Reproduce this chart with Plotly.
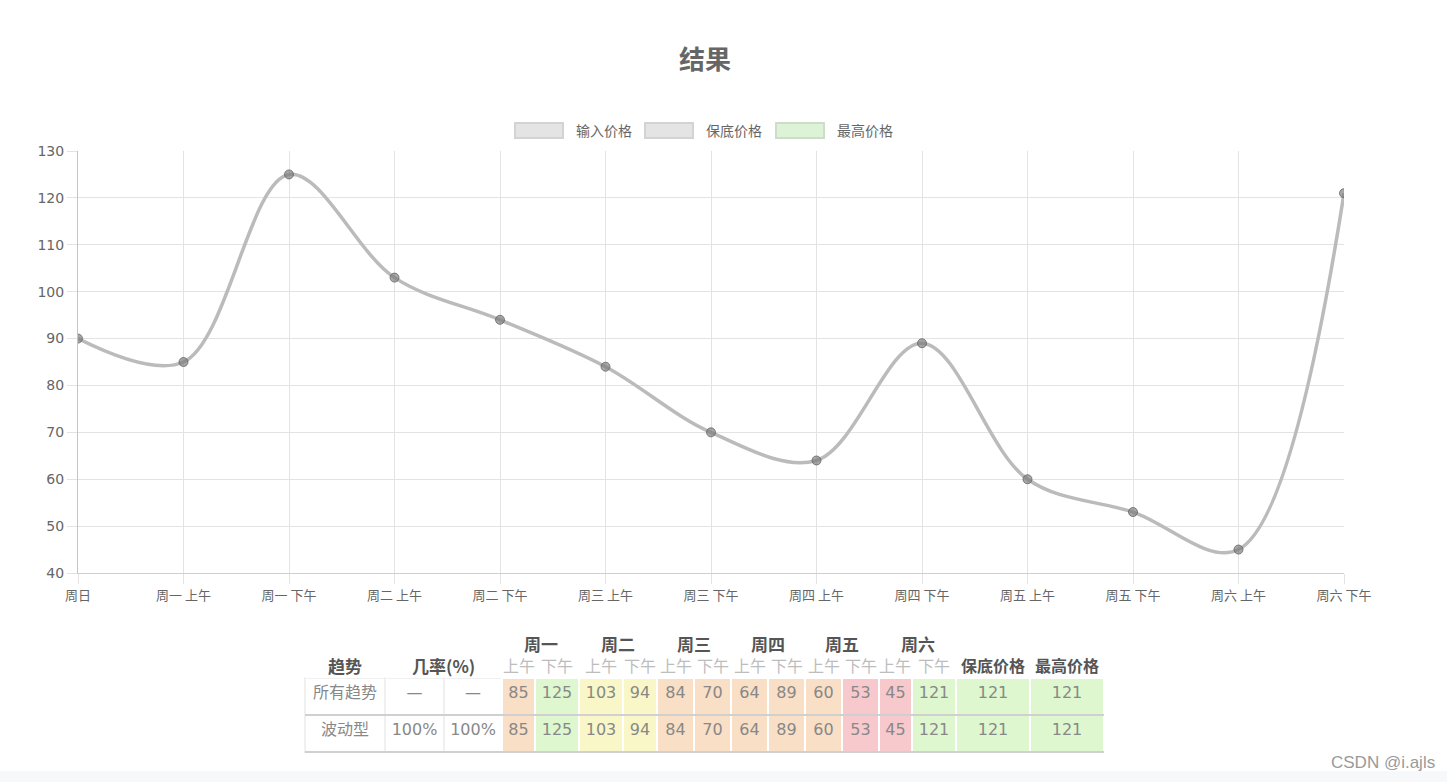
import plotly.graph_objects as go

W, H = 1447, 782

# ---------------- data ----------------
x_labels = ["周日", "周一 上午", "周一 下午", "周二 上午", "周二 下午", "周三 上午", "周三 下午",
            "周四 上午", "周四 下午", "周五 上午", "周五 下午", "周六 上午", "周六 下午"]
input_prices = [90, 85, 125, 103, 94, 84, 70, 64, 89, 60, 53, 45, 121]
legend_names = ["输入价格", "保底价格", "最高价格"]
y_ticks = [40, 50, 60, 70, 80, 90, 100, 110, 120, 130]

trend_names = ["所有趋势", "波动型"]
trend_probs = [["—", "—"], ["100%", "100%"]]
trend_prices = [
    [85, 125, 103, 94, 84, 70, 64, 89, 60, 53, 45, 121],
    [85, 125, 103, 94, 84, 70, 64, 89, 60, 53, 45, 121],
]
trend_min_price = [121, 121]
trend_max_price = [121, 121]
day_names = ["周一", "周二", "周三", "周四", "周五", "周六"]
half_names = ["上午", "下午"]
col_header_trend = "趋势"
col_header_prob = "几率(%)"
col_header_min = "保底价格"
col_header_max = "最高价格"

# ---------------- styles ----------------
PEACH = "#f9dfc5"
GREEN = "#def7cf"
YELLOW = "#f9f7c7"
PINK = "#f8c9cc"
price_col_colors = [PEACH, GREEN, YELLOW, YELLOW, PEACH, PEACH, PEACH, PEACH, PEACH, PINK, PINK, GREEN]
col_widths_px = [80, 59, 58, 33, 44, 44, 34, 37, 37, 37, 37, 37, 37, 33, 44, 74, 74]


def px_x(p):
    return p / W


def px_y(p):
    return 1 - p / H


fig = go.Figure()

# ---------------- line chart ----------------
fig.add_trace(go.Scatter(
    x=list(range(len(x_labels))), y=input_prices, mode="lines+markers",
    name=legend_names[0], showlegend=False,
    line=dict(color="rgb(187,187,187)", width=3.5, shape="spline", smoothing=1.0),
    marker=dict(size=9, color="rgba(120,120,120,0.65)", line=dict(color="rgba(95,95,95,0.75)", width=1)),
    hoverinfo="skip",
))

# ---------------- table ----------------
n_rows = len(trend_names)
n_cols = len(col_widths_px)
columns = [trend_names]
columns.append([trend_probs[r][0] for r in range(n_rows)])
columns.append([trend_probs[r][1] for r in range(n_rows)])
for c in range(len(trend_prices[0])):
    columns.append([trend_prices[r][c] for r in range(n_rows)])
columns.append(trend_min_price)
columns.append(trend_max_price)

fills = ["white", "white", "white"] + price_col_colors + [GREEN, GREEN]
fill_cols = [[f] * n_rows for f in fills]
line_cols = ["#f0f0f0" if f == "white" else "white" for f in fills]

table_left, table_right = 305, 1104
header_top = 654
header_h = 24
cell_h = 37

fig.add_trace(go.Table(
    domain=dict(x=[px_x(table_left), px_x(table_right)], y=[0.0, px_y(header_top)]),
    columnwidth=col_widths_px,
    header=dict(values=[""] * n_cols, height=header_h, fill_color="white",
                line=dict(color="white", width=0),
                font=dict(family="Noto Sans CJK SC", size=1, color="white")),
    cells=dict(values=columns, height=cell_h, fill_color=fill_cols,
               line=dict(color=line_cols, width=1.5),
               font=dict(family=["Noto Sans CJK SC"] + ["DejaVu Sans"] * 16, size=[16] + [16] * 16,
                         color="#888"),
               align="center"),
))

# ---------------- layout ----------------
shapes = []
annotations = []

# legend boxes
legend_box_x = [515, 645, 776]
legend_fill = ["#e4e4e4", "#e4e4e4", "#ddf3d5"]
legend_line = ["#d3d3d3", "#d3d3d3", "#cfdccb"]
for i, name in enumerate(legend_names):
    bx = legend_box_x[i]
    shapes.append(dict(type="rect", xref="paper", yref="paper",
                       x0=px_x(bx), x1=px_x(bx + 48), y0=px_y(138), y1=px_y(123),
                       fillcolor=legend_fill[i], line=dict(color=legend_line[i], width=2)))
    annotations.append(dict(xref="paper", yref="paper", x=px_x(bx + 59), y=px_y(130),
                            xanchor="left", yanchor="middle", showarrow=False, text=name,
                            font=dict(family="Noto Sans CJK SC", size=14, color="#666")))

# table headers
edges = [table_left]
for w in col_widths_px:
    edges.append(edges[-1] + w)


def head(text, c0, c1, y, color="#555", bold=True, size=17):
    annotations.append(dict(xref="paper", yref="paper", x=px_x((edges[c0] + edges[c1]) / 2), y=px_y(y),
                            xanchor="center", yanchor="middle", showarrow=False,
                            text=("<b>" + text + "</b>") if bold else text,
                            font=dict(family="Noto Sans CJK SC", size=size, color=color)))


row2_y = 665
head(col_header_trend, 0, 1, row2_y)
head(col_header_prob, 1, 3, row2_y)
for i, d in enumerate(day_names):
    c0 = 3 + 2 * i
    head(d, c0, c0 + 2, 643)
    for j, hn in enumerate(half_names):
        head(hn, c0 + j, c0 + j + 1, row2_y, color="#bdbdbd", bold=False, size=16)
head(col_header_min, n_cols - 2, n_cols - 1, row2_y, size=16)
head(col_header_max, n_cols - 1, n_cols, row2_y, size=16)

# table horizontal rules
for r in range(n_rows):
    yy = header_top + header_h + cell_h * (r + 1)
    shapes.append(dict(type="line", xref="paper", yref="paper",
                       x0=px_x(table_left), x1=px_x(table_right), y0=px_y(yy), y1=px_y(yy),
                       line=dict(color="#d0d0d0", width=2)))

# bottom page strip + watermark
shapes.append(dict(type="rect", xref="paper", yref="paper", x0=0, x1=1, y0=0, y1=px_y(771),
                   fillcolor="#f7f8fa", line=dict(width=0), layer="below"))
annotations.append(dict(xref="paper", yref="paper", x=px_x(1437), y=px_y(762), xanchor="right",
                        yanchor="middle", showarrow=False, text="CSDN @i.ajls",
                        font=dict(family="Liberation Sans", size=17, color="#9a9a9a")))

fig.update_layout(
    width=W, height=H,
    margin=dict(l=0, r=0, t=0, b=0, autoexpand=False),
    paper_bgcolor="white", plot_bgcolor="white",
    title=dict(text="<b>结果</b>", x=px_x(705), xanchor="center", y=px_y(60), yanchor="middle",
               yref="container", xref="container",
               font=dict(family="Noto Sans CJK SC", size=26, color="#666")),
    xaxis=dict(domain=[px_x(78), px_x(1344)], range=[0, 12], automargin=False,
               tickmode="array", tickvals=list(range(len(x_labels))), ticktext=x_labels,
               showgrid=True, gridcolor="#e3e3e3", gridwidth=1,
               showline=True, linecolor="#cfcfcf", linewidth=1,
               ticks="outside", ticklen=10, tickcolor="#e3e3e3",
               tickfont=dict(family="Noto Sans CJK SC", size=13, color="#666"),
               zeroline=False, fixedrange=True),
    yaxis=dict(domain=[px_y(573), px_y(151)], range=[40, 130], automargin=False,
               tickmode="array", tickvals=y_ticks,
               showgrid=True, gridcolor="#e3e3e3", gridwidth=1,
               showline=True, linecolor="#c4c4c4", linewidth=1,
               ticks="outside", ticklen=10, tickcolor="#e3e3e3",
               tickfont=dict(family="DejaVu Sans", size=14, color="#666"),
               zeroline=False, fixedrange=True),
    shapes=shapes, annotations=annotations,
    showlegend=False, hovermode=False,
)

fig.write_html("out.html")
